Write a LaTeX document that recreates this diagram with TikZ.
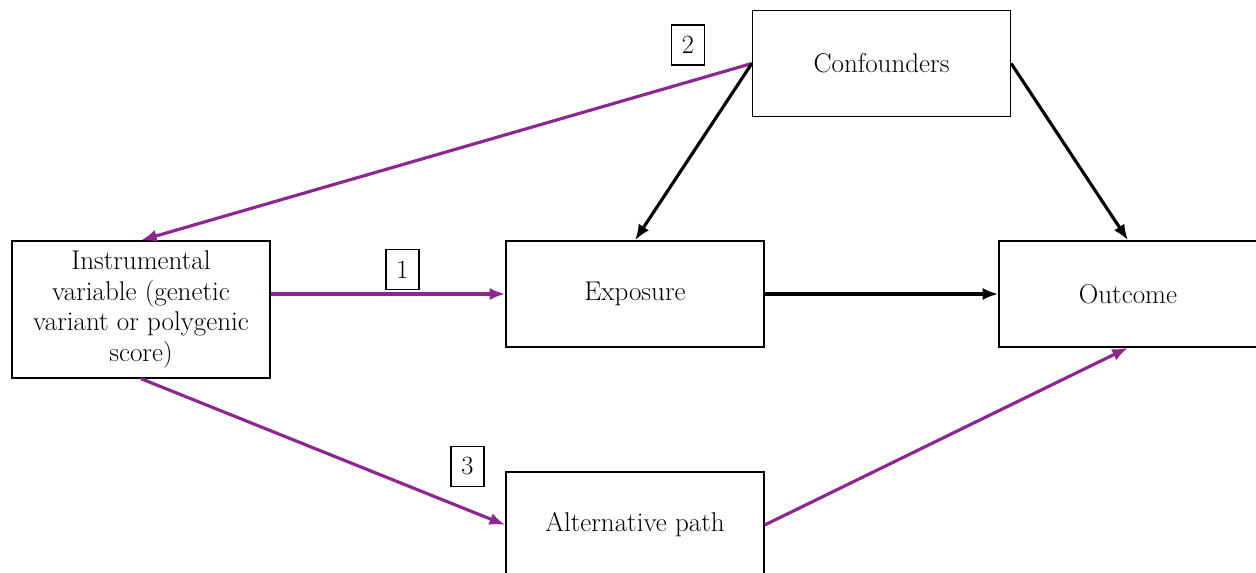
\documentclass[tikz,border=0pt]{standalone}
\usepackage{fontspec}
\usetikzlibrary{arrows.meta}

\definecolor{ivpurple}{RGB}{142,38,146}

\tikzset{
  var/.style={draw,line width=0.8pt,minimum width=5.16cm,minimum height=2.12cm,
    align=center,inner sep=2pt,font=\fontsize{15.4}{17.6}\selectfont},
  tag/.style={draw,line width=0.8pt,minimum width=0.66cm,minimum height=0.8cm,
    inner sep=0pt,font=\fontsize{15}{17}\selectfont},
  ivarrow/.style={-{Latex[length=9pt,width=7pt]},line width=1.8pt,ivpurple},
  causearrow/.style={-{Latex[length=9pt,width=7pt]},line width=1.8pt,black}
}

\begin{document}
\begin{tikzpicture}[x=0.02cm,y=-0.02cm]
        \useasboundingbox (0,0) rectangle (1256,573);
        % boxes
        \node[var,minimum height=2.74cm] (iv) at (141,309.5) {Instrumental\\variable (genetic\\variant or polygenic\\score)};
        \node[var] (expo) at (635,294) {Exposure};
        \node[var] (out) at (1128,294) {Outcome};
        \node[var] (conf) at (881.5,63.5) {Confounders};
        \node[var] (alt) at (635,525) {Alternative path};
        % assumption numbers
        \node[tag] (n1) at (402.5,269.5) {1};
        \node[tag] (n2) at (688,45) {2};
        \node[tag] (n3) at (467.5,466.5) {3};
        % paths
        \draw[ivarrow] (iv.east |- expo.west) -- (expo.west);
        \draw[ivarrow] (conf.west) -- (iv.north);
        \draw[ivarrow] (iv.south) -- (alt.west);
        \draw[ivarrow] (alt.east) -- (out.south);
        \draw[causearrow] (conf.west) -- (expo.north);
        \draw[causearrow] (conf.east) -- (out.north);
        \draw[causearrow] (expo.east) -- (out.west);
\end{tikzpicture}
\end{document}
